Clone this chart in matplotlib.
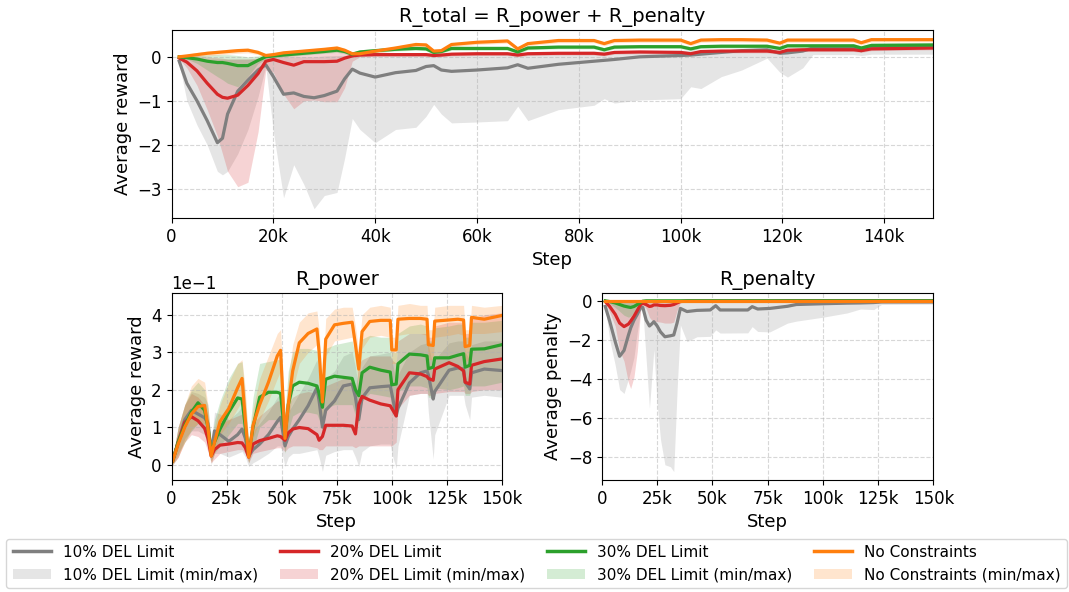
import numpy as np
import matplotlib
matplotlib.use("Agg")
import matplotlib.pyplot as plt
from matplotlib.lines import Line2D
from matplotlib.patches import Patch
from matplotlib.ticker import FuncFormatter

# ---- data (step in thousands) ----
names = ["10% DEL Limit", "20% DEL Limit", "30% DEL Limit", "No Constraints"]
colors = ["tab:gray", "tab:red", "tab:green", "tab:orange"]

# R_total
tot_step = [1.5, 3, 5, 7, 9, 10, 11, 13, 15, 17, 18.5, 20, 22, 24, 26, 28, 30, 32.5, 34, 35.5,
            37, 40, 44, 48, 50, 51.5, 53, 55, 60, 66, 68, 70, 76, 83, 85, 87, 92, 100, 102, 104,
            108, 112, 117, 119.5, 121, 124, 126, 134, 135.5, 137.5, 150]
tot_10 = [-0.1, -0.6, -1.0, -1.45, -1.95, -1.85, -1.3, -0.78, -0.53, -0.3, -0.18, -0.45, -0.85, -0.82, -0.9, -0.93, -0.88, -0.78, -0.5, -0.28,
          -0.37, -0.46, -0.36, -0.31, -0.22, -0.2, -0.3, -0.33, -0.3, -0.25, -0.18, -0.26, -0.17, -0.1, -0.08, -0.06, 0.0, 0.03, 0.04, 0.06,
          0.1, 0.14, 0.16, 0.08, 0.09, 0.13, 0.2, 0.2, 0.14, 0.22, 0.22]
tot_10_lo = [-0.15, -1.0, -1.55, -2.0, -2.6, -2.68, -2.6, -2.2, -1.65, -0.9, -0.22, -1.7, -3.2, -2.45, -2.9, -3.45, -3.15, -3.08, -2.3, -1.4,
             -1.65, -1.95, -1.65, -1.6, -1.35, -1.08, -1.3, -1.5, -1.48, -1.45, -1.12, -1.45, -1.2, -1.1, -0.95, -1.05, -0.98, -0.95, -0.68, -0.72,
             -0.45, -0.3, -0.03, -0.35, -0.46, -0.25, 0.05, 0.05, 0.03, 0.06, 0.06]
tot_10_hi = [0.0, 0.0, -0.02, -0.05, -0.05, -0.05, -0.05, -0.05, -0.05, -0.05, -0.05, 0.0, 0.0, 0.0, 0.0, 0.0, 0.02, 0.03, 0.03, 0.03,
             0.05, 0.05, 0.06, 0.07, 0.08, 0.08, 0.08, 0.08, 0.09, 0.1, 0.1, 0.1, 0.12, 0.13, 0.13, 0.13, 0.14, 0.15, 0.15, 0.16,
             0.17, 0.18, 0.2, 0.17, 0.18, 0.2, 0.25, 0.27, 0.25, 0.28, 0.28]
tot_20 = [-0.03, -0.12, -0.32, -0.6, -0.85, -0.92, -0.94, -0.87, -0.65, -0.38, -0.1, -0.06, -0.13, -0.19, -0.11, -0.11, -0.11, -0.1, -0.03, 0.02,
          0.04, 0.05, 0.05, 0.05, 0.05, 0.03, 0.04, 0.06, 0.07, 0.07, 0.04, 0.07, 0.08, 0.08, 0.06, 0.1, 0.11, 0.1, 0.07, 0.12,
          0.13, 0.13, 0.13, 0.1, 0.15, 0.16, 0.16, 0.16, 0.14, 0.18, 0.2]
tot_20_lo = [-0.05, -0.25, -0.65, -1.2, -1.8, -2.2, -2.6, -2.95, -2.85, -1.7, -0.3, -0.35, -0.85, -1.18, -1.0, -0.98, -1.02, -1.02, -0.7, -0.1,
             0.0, 0.01, 0.01, 0.01, 0.01, -0.01, 0.0, 0.02, 0.03, 0.03, 0.0, 0.03, 0.04, 0.04, 0.02, 0.06, 0.07, 0.06, 0.03, 0.08,
             0.09, 0.09, 0.09, 0.06, 0.11, 0.12, 0.12, 0.12, 0.1, 0.14, 0.16]
tot_20_hi = [0.02, 0.02, 0.02, 0.0, -0.02, -0.03, -0.05, -0.05, -0.05, -0.03, 0.02, 0.05, 0.07, 0.08, 0.09, 0.1, 0.12, 0.15, 0.1, 0.06,
             0.08, 0.09, 0.09, 0.09, 0.09, 0.07, 0.08, 0.1, 0.11, 0.11, 0.08, 0.11, 0.12, 0.12, 0.1, 0.14, 0.15, 0.14, 0.11, 0.16,
             0.17, 0.17, 0.17, 0.14, 0.19, 0.2, 0.2, 0.2, 0.18, 0.22, 0.24]
tot_30 = [0.0, -0.02, -0.05, -0.1, -0.13, -0.13, -0.15, -0.2, -0.2, -0.08, 0.0, 0.02, 0.04, 0.06, 0.08, 0.1, 0.12, 0.15, 0.12, 0.06,
          0.11, 0.14, 0.17, 0.19, 0.18, 0.1, 0.12, 0.19, 0.19, 0.19, 0.11, 0.2, 0.22, 0.22, 0.16, 0.22, 0.23, 0.23, 0.18, 0.23,
          0.24, 0.24, 0.24, 0.19, 0.25, 0.25, 0.25, 0.25, 0.2, 0.26, 0.27]
tot_30_lo = [-0.02, -0.05, -0.15, -0.3, -0.45, -0.52, -0.6, -0.68, -0.45, -0.15, -0.05, -0.02, 0.0, 0.02, 0.04, 0.06, 0.08, 0.1, 0.07, 0.02,
             0.07, 0.1, 0.13, 0.15, 0.14, 0.06, 0.08, 0.15, 0.15, 0.15, 0.07, 0.16, 0.18, 0.18, 0.12, 0.18, 0.19, 0.19, 0.14, 0.19,
             0.2, 0.2, 0.2, 0.15, 0.21, 0.21, 0.21, 0.21, 0.16, 0.22, 0.23]
tot_30_hi = [0.02, 0.03, 0.04, 0.04, 0.05, 0.05, 0.05, 0.03, 0.0, 0.02, 0.05, 0.07, 0.09, 0.11, 0.13, 0.15, 0.17, 0.2, 0.17, 0.11,
             0.16, 0.19, 0.22, 0.24, 0.23, 0.15, 0.17, 0.24, 0.24, 0.24, 0.16, 0.25, 0.27, 0.27, 0.21, 0.27, 0.28, 0.28, 0.23, 0.28,
             0.29, 0.29, 0.29, 0.24, 0.3, 0.3, 0.3, 0.3, 0.25, 0.31, 0.32]
tot_nc = [0.0, 0.02, 0.05, 0.08, 0.1, 0.11, 0.12, 0.14, 0.15, 0.1, 0.03, 0.05, 0.09, 0.11, 0.13, 0.15, 0.17, 0.2, 0.15, 0.07,
          0.07, 0.13, 0.2, 0.28, 0.27, 0.13, 0.14, 0.28, 0.33, 0.36, 0.18, 0.3, 0.37, 0.37, 0.3, 0.37, 0.38, 0.38, 0.3, 0.38,
          0.39, 0.39, 0.38, 0.31, 0.38, 0.38, 0.38, 0.38, 0.32, 0.39, 0.39]
tot_nc_lo = [-0.03, -0.03, 0.0, 0.02, 0.04, 0.05, 0.06, 0.08, 0.09, 0.05, -0.02, 0.0, 0.04, 0.06, 0.08, 0.1, 0.12, 0.15, 0.1, 0.02,
             0.02, 0.08, 0.15, 0.23, 0.22, 0.08, 0.09, 0.23, 0.28, 0.31, 0.13, 0.25, 0.32, 0.32, 0.25, 0.32, 0.33, 0.33, 0.25, 0.33,
             0.34, 0.34, 0.33, 0.26, 0.33, 0.33, 0.33, 0.33, 0.27, 0.34, 0.34]
tot_nc_hi = [0.03, 0.06, 0.1, 0.13, 0.15, 0.16, 0.17, 0.19, 0.2, 0.15, 0.07, 0.09, 0.13, 0.15, 0.17, 0.19, 0.21, 0.24, 0.19, 0.11,
             0.11, 0.17, 0.24, 0.32, 0.31, 0.17, 0.18, 0.32, 0.37, 0.4, 0.22, 0.34, 0.41, 0.41, 0.34, 0.41, 0.42, 0.42, 0.34, 0.42,
             0.43, 0.43, 0.42, 0.35, 0.42, 0.42, 0.42, 0.42, 0.36, 0.43, 0.43]

# R_power (values in units of 1e-1)
pw_step = [0.5, 3, 6, 9, 12, 15, 16.5, 18, 19.5, 22, 26, 30, 32, 33.5, 35, 37, 40, 44, 48, 49.5,
           51.5, 53, 55, 58, 62, 66, 67, 68.5, 70, 74, 78, 82, 83.5, 85, 86.5, 90, 95, 99.3, 100, 102,
           102.8, 108, 113, 116, 116.6, 118.8, 119.5, 126, 130, 132.6, 133.3, 135.4, 136.2, 142, 150]
pw_10 = [0.1, 0.6, 1.2, 1.45, 1.35, 1.25, 1.1, 0.32, 0.9, 0.8, 0.62, 0.8, 0.95, 0.7, 0.23, 0.4, 0.55, 0.8, 1.15, 1.26,
         0.5, 0.75, 0.95, 1.2, 1.57, 2.05, 1.7, 1.0, 1.45, 1.7, 2.1, 2.15, 1.8, 1.2, 1.78, 2.05, 2.08, 2.1, 1.9, 1.3,
         1.5, 2.18, 2.45, 2.5, 2.4, 1.75, 1.95, 2.52, 2.58, 2.55, 2.2, 2.02, 2.45, 2.55, 2.51]
pw_10_lo = [0.0, 0.2, 0.7, 0.9, 0.9, 0.8, 0.5, 0.0, 0.3, 0.3, 0.2, 0.3, 0.35, 0.2, -0.05, 0.05, 0.15, 0.3, 0.5, 0.5,
            -0.05, 0.2, 0.3, 0.3, 0.35, 0.4, 0.2, -0.18, 0.25, 0.35, 0.4, 0.4, 0.2, -0.05, 0.35, 0.5, 0.55, 0.55, 0.3, -0.1,
            0.5, 1.85, 1.9, 1.9, 1.4, 0.15, 0.8, 1.85, 1.85, 1.85, 1.6, 1.2, 1.8, 1.85, 1.8]
pw_10_hi = [0.2, 1.0, 1.6, 1.95, 1.9, 1.8, 1.6, 0.6, 1.4, 1.35, 1.2, 1.4, 1.55, 1.2, 0.5, 0.9, 1.1, 1.4, 1.8, 1.9,
            1.0, 1.4, 1.6, 1.9, 2.3, 2.8, 2.4, 1.8, 2.3, 2.5, 2.9, 3.0, 2.6, 2.0, 2.6, 2.9, 2.95, 3.0, 2.8, 2.2,
            2.4, 3.0, 3.2, 3.25, 3.2, 2.6, 2.8, 3.25, 3.3, 3.3, 3.0, 2.8, 3.2, 3.3, 3.3]
pw_20 = [0.1, 0.6, 1.13, 1.28, 1.17, 0.97, 0.7, 0.23, 0.4, 0.52, 0.55, 0.59, 0.58, 0.45, 0.2, 0.55, 0.64, 0.7, 0.77, 0.75,
         0.65, 0.85, 0.95, 0.99, 0.96, 0.8, 0.65, 0.75, 1.05, 1.05, 1.05, 1.03, 0.82, 1.6, 1.82, 1.72, 1.62, 1.57, 1.5, 1.3,
         2.0, 2.45, 2.42, 2.35, 2.3, 2.25, 2.55, 2.72, 2.62, 2.5, 2.2, 2.15, 2.65, 2.75, 2.82]
pw_20_lo = [0.0, 0.2, 0.6, 0.8, 0.75, 0.6, 0.35, 0.05, 0.15, 0.3, 0.35, 0.4, 0.4, 0.3, 0.05, 0.3, 0.35, 0.4, 0.45, 0.45,
            0.35, 0.45, 0.5, 0.5, 0.5, 0.45, 0.4, 0.4, 0.5, 0.5, 0.5, 0.5, 0.45, 0.5, 0.5, 0.5, 0.5, 0.5, 0.5, 0.6,
            1.5, 1.85, 1.9, 1.9, 1.85, 1.85, 1.9, 1.95, 1.95, 1.95, 1.9, 1.9, 1.95, 2.0, 2.0]
pw_20_hi = [0.2, 1.0, 1.6, 1.9, 1.8, 1.6, 1.3, 0.5, 0.9, 1.1, 1.2, 1.3, 1.35, 1.0, 0.5, 1.1, 1.3, 1.5, 1.7, 1.7,
            1.3, 1.6, 1.8, 1.9, 1.95, 1.9, 1.6, 1.5, 2.1, 2.2, 2.3, 2.3, 2.0, 2.7, 2.8, 2.9, 2.9, 2.9, 2.8, 2.7,
            3.3, 3.5, 3.5, 3.5, 3.4, 3.4, 3.7, 3.8, 3.8, 3.8, 3.5, 3.5, 3.9, 4.0, 4.05]
pw_30 = [0.1, 0.6, 1.04, 1.4, 1.65, 1.45, 1.0, 0.32, 0.6, 0.95, 1.4, 1.78, 1.75, 1.0, 0.28, 1.0, 1.8, 1.93, 1.93, 1.9,
         0.75, 1.6, 2.1, 2.2, 2.17, 2.1, 1.9, 1.53, 2.28, 2.36, 2.33, 2.3, 2.0, 1.84, 2.45, 2.6, 2.52, 2.47, 2.13, 2.15,
         2.69, 2.95, 2.93, 2.9, 2.56, 2.6, 2.85, 2.85, 2.92, 2.96, 2.6, 2.65, 3.08, 3.09, 3.2]
pw_30_lo = [0.0, 0.3, 0.6, 0.9, 1.1, 0.9, 0.5, 0.1, 0.3, 0.5, 0.8, 1.1, 1.1, 0.5, 0.05, 0.4, 1.0, 1.2, 1.2, 1.15,
            0.3, 0.9, 1.3, 1.4, 1.4, 1.35, 1.2, 0.9, 1.5, 1.6, 1.6, 1.6, 1.3, 1.1, 1.7, 1.9, 1.85, 1.8, 1.5, 1.5,
            1.95, 2.1, 2.1, 2.05, 1.8, 1.8, 2.05, 2.0, 2.05, 2.1, 1.85, 1.85, 2.1, 2.1, 2.2]
pw_30_hi = [0.2, 1.0, 1.6, 2.0, 2.2, 2.0, 1.5, 0.6, 1.2, 1.7, 2.3, 2.7, 2.75, 1.8, 0.6, 1.8, 2.7, 2.75, 2.8, 2.8,
            1.4, 2.5, 3.0, 3.1, 3.1, 3.05, 2.8, 2.3, 3.1, 3.2, 3.25, 3.3, 2.9, 2.6, 3.35, 3.45, 3.4, 3.4, 3.0, 3.0,
            3.5, 3.7, 3.75, 3.7, 3.3, 3.3, 3.65, 3.7, 3.75, 3.75, 3.4, 3.4, 3.8, 3.8, 3.85]
pw_nc = [0.1, 0.55, 1.0, 1.35, 1.55, 1.58, 1.0, 0.23, 0.6, 1.15, 1.5, 2.05, 2.3, 1.2, 0.2, 1.05, 1.6, 2.2, 2.9, 3.05,
         0.7, 1.6, 2.5, 3.25, 3.5, 3.62, 3.0, 1.67, 3.35, 3.73, 3.77, 3.8, 3.2, 2.55, 3.55, 3.82, 3.85, 3.85, 3.06, 3.06,
         3.88, 3.9, 3.9, 3.88, 3.2, 3.18, 3.83, 3.86, 3.88, 3.86, 3.15, 3.18, 3.93, 3.88, 3.98]
pw_nc_lo = [0.0, 0.2, 0.6, 0.95, 1.1, 1.1, 0.6, 0.05, 0.3, 0.8, 1.1, 1.5, 1.7, 0.7, 0.05, 0.7, 1.2, 1.7, 2.3, 2.5,
            0.4, 1.1, 2.0, 2.7, 3.0, 3.2, 2.5, 1.3, 2.9, 3.3, 3.35, 3.4, 2.8, 2.1, 3.1, 3.4, 3.45, 3.4, 2.7, 2.7,
            3.45, 3.5, 3.5, 3.45, 2.8, 2.8, 3.4, 3.45, 3.5, 3.45, 2.75, 2.8, 3.5, 3.5, 3.55]
pw_nc_hi = [0.2, 1.0, 1.6, 2.1, 2.3, 2.2, 1.6, 0.5, 1.0, 1.6, 2.2, 2.7, 2.8, 2.0, 0.5, 1.5, 2.3, 2.9, 3.5, 3.6,
            1.2, 2.3, 3.2, 3.8, 4.05, 4.1, 3.6, 2.2, 3.9, 4.15, 4.2, 4.2, 3.7, 3.0, 4.0, 4.2, 4.25, 4.2, 3.4, 3.4,
            4.25, 4.3, 4.25, 4.25, 3.6, 3.6, 4.2, 4.25, 4.25, 4.25, 3.6, 3.6, 4.25, 4.2, 4.25]

# R_penalty
pen_step = [1.5, 3.5, 6, 8, 10, 12, 13, 14.5, 16, 17.5, 18.5, 20, 21.5, 22.5, 23.5, 25, 26.5, 28.5, 31, 32.5,
            34, 35.5, 38.5, 43, 49, 51.5, 53.5, 66, 68, 70.5, 76, 84, 88, 100, 111, 117, 123, 126.5, 150]
pen_10 = [-0.3, -1.05, -2.1, -2.85, -2.55, -1.76, -1.4, -1.0, -0.7, -0.35, -0.35, -1.0, -1.3, -1.2, -1.08, -1.3, -1.6, -1.85, -1.8, -1.76,
          -1.15, -0.4, -0.56, -0.5, -0.48, -0.26, -0.48, -0.48, -0.31, -0.43, -0.4, -0.29, -0.2, -0.16, -0.13, -0.12, -0.1, -0.07, -0.07]
pen_10_lo = [-0.35, -2.0, -3.3, -4.55, -4.75, -4.0, -3.6, -2.9, -1.6, -0.5, -0.45, -3.0, -5.5, -4.0, -2.5, -5.3, -7.1, -8.4, -8.5, -8.75,
             -4.6, -1.25, -2.1, -1.85, -1.83, -1.5, -1.66, -1.65, -1.33, -1.58, -1.6, -1.15, -1.05, -0.85, -0.63, -0.43, -0.46, -0.2, -0.18]
pen_10_hi = [-0.05, -0.05, -0.05, -0.05, -0.05, -0.05, -0.05, -0.05, -0.05, -0.05, -0.05, -0.05, -0.05, -0.05, -0.05, -0.05, -0.05, -0.05, -0.05, -0.05,
             -0.05, -0.02, -0.02, -0.02, -0.02, -0.02, -0.02, -0.02, -0.02, -0.02, -0.02, -0.02, -0.02, -0.02, -0.02, -0.02, -0.02, -0.02, -0.02]
pen_20 = [-0.05, -0.3, -0.7, -1.15, -1.33, -1.2, -1.05, -0.8, -0.5, -0.2, -0.14, -0.2, -0.3, -0.28, -0.22, -0.22, -0.25, -0.26, -0.24, -0.2,
          -0.12, -0.05, -0.02, -0.02, -0.02, -0.02, -0.02, -0.02, -0.02, -0.02, -0.02, -0.01, -0.01, -0.01, -0.01, -0.01, -0.01, -0.01, -0.01]
pen_20_lo = [-0.07, -0.6, -1.3, -2.55, -3.1, -4.2, -4.5, -3.9, -2.6, -0.5, -0.2, -0.4, -0.85, -1.0, -1.05, -1.08, -1.1, -1.15, -1.15, -1.1,
             -0.5, -0.08, -0.04, -0.04, -0.04, -0.04, -0.04, -0.04, -0.04, -0.04, -0.04, -0.03, -0.03, -0.03, -0.03, -0.03, -0.03, -0.03, -0.03]
pen_20_hi = [0.0, -0.02, -0.05, -0.08, -0.1, -0.1, -0.08, -0.06, -0.04, -0.02, -0.02, -0.02, -0.03, -0.03, -0.02, -0.02, -0.02, -0.02, -0.02, -0.02,
             -0.01, 0.0, 0.0, 0.0, 0.0, 0.0, 0.0, 0.0, 0.0, 0.0, 0.0, 0.0, 0.0, 0.0, 0.0, 0.0, 0.0, 0.0, 0.0]
pen_30 = [-0.01, -0.05, -0.12, -0.2, -0.28, -0.33, -0.35, -0.3, -0.2, -0.08, -0.03, -0.01, -0.01, -0.01, -0.01, -0.01, -0.01, -0.01, -0.01, -0.01,
          -0.01, -0.01, -0.01, -0.01, -0.01, -0.01, -0.01, -0.01, -0.01, -0.01, -0.01, -0.01, -0.01, -0.01, -0.01, -0.01, -0.01, -0.01, -0.01]
pen_30_lo = [-0.02, -0.15, -0.35, -0.55, -0.75, -0.85, -0.8, -0.6, -0.35, -0.1, -0.05, -0.02, -0.02, -0.02, -0.02, -0.02, -0.02, -0.02, -0.02, -0.02,
             -0.02, -0.02, -0.02, -0.02, -0.02, -0.02, -0.02, -0.02, -0.02, -0.02, -0.02, -0.02, -0.02, -0.02, -0.02, -0.02, -0.02, -0.02, -0.02]
pen_30_hi = [0.0, 0.0, -0.01, -0.02, -0.03, -0.04, -0.04, -0.03, -0.02, 0.0, 0.0, 0.0, 0.0, 0.0, 0.0, 0.0, 0.0, 0.0, 0.0, 0.0,
             0.0, 0.0, 0.0, 0.0, 0.0, 0.0, 0.0, 0.0, 0.0, 0.0, 0.0, 0.0, 0.0, 0.0, 0.0, 0.0, 0.0, 0.0, 0.0]
pen_nc = [0.0, 0.0, 0.0, 0.0, 0.0, 0.0, 0.0, 0.0, 0.0, 0.0, 0.0, 0.0, 0.0, 0.0, 0.0, 0.0, 0.0, 0.0, 0.0, 0.0,
          0.0, 0.0, 0.0, 0.0, 0.0, 0.0, 0.0, 0.0, 0.0, 0.0, 0.0, 0.0, 0.0, 0.0, 0.0, 0.0, 0.0, 0.0, 0.0]
pen_nc_lo = [-0.02, -0.02, -0.02, -0.02, -0.02, -0.02, -0.02, -0.02, -0.02, -0.02, -0.02, -0.02, -0.02, -0.02, -0.02, -0.02, -0.02, -0.02, -0.02, -0.02,
             -0.02, -0.02, -0.02, -0.02, -0.02, -0.02, -0.02, -0.02, -0.02, -0.02, -0.02, -0.02, -0.02, -0.02, -0.02, -0.02, -0.02, -0.02, -0.02]
pen_nc_hi = [0.0, 0.0, 0.0, 0.0, 0.0, 0.0, 0.0, 0.0, 0.0, 0.0, 0.0, 0.0, 0.0, 0.0, 0.0, 0.0, 0.0, 0.0, 0.0, 0.0,
             0.0, 0.0, 0.0, 0.0, 0.0, 0.0, 0.0, 0.0, 0.0, 0.0, 0.0, 0.0, 0.0, 0.0, 0.0, 0.0, 0.0, 0.0, 0.0]

tot = [(tot_10, tot_10_lo, tot_10_hi), (tot_20, tot_20_lo, tot_20_hi),
       (tot_30, tot_30_lo, tot_30_hi), (tot_nc, tot_nc_lo, tot_nc_hi)]
pw = [(pw_10, pw_10_lo, pw_10_hi), (pw_20, pw_20_lo, pw_20_hi),
      (pw_30, pw_30_lo, pw_30_hi), (pw_nc, pw_nc_lo, pw_nc_hi)]
pen = [(pen_10, pen_10_lo, pen_10_hi), (pen_20, pen_20_lo, pen_20_hi),
       (pen_30, pen_30_lo, pen_30_hi), (pen_nc, pen_nc_lo, pen_nc_hi)]

fig = plt.figure(figsize=(10.69, 5.92), dpi=100)
ax_t = fig.add_axes([0.1605, 0.6318, 0.7123, 0.3176])
ax_p = fig.add_axes([0.1605, 0.1892, 0.3090, 0.3159])
ax_n = fig.add_axes([0.5631, 0.1892, 0.3100, 0.3159])


def draw(ax, steps, series, scale=1.0):
    x = np.array(steps)
    for (m, lo, hi), c in zip(series, colors):
        ax.fill_between(x, np.array(lo) * scale, np.array(hi) * scale, color=c, alpha=0.2, lw=0)
        ax.plot(x, np.array(m) * scale, color=c, lw=2.3)
    ax.grid(True, ls="--", alpha=0.5)
    ax.tick_params(labelsize=12)


kfmt = FuncFormatter(lambda v, p: "0" if v == 0 else f"{v:g}k")

draw(ax_t, tot_step, tot)
ax_t.set_xlim(0, 149.6)
ax_t.set_ylim(-3.66, 0.61)
ax_t.set_xticks([0, 20, 40, 60, 80, 100, 120, 140])
ax_t.xaxis.set_major_formatter(kfmt)
ax_t.set_title("R_total = R_power + R_penalty", fontsize=14)
ax_t.set_xlabel("Step", fontsize=13)
ax_t.set_ylabel("Average reward", fontsize=13)

draw(ax_p, pw_step, pw, scale=0.1)
ax_p.set_xlim(0, 150)
ax_p.set_ylim(-0.041, 0.458)
ax_p.set_xticks([0, 25, 50, 75, 100, 125, 150])
ax_p.xaxis.set_major_formatter(kfmt)
ax_p.ticklabel_format(style="sci", axis="y", scilimits=(0, 0))
ax_p.yaxis.get_offset_text().set_fontsize(12)
ax_p.set_title("R_power", fontsize=14)
ax_p.set_xlabel("Step", fontsize=13)
ax_p.set_ylabel("Average reward", fontsize=13)

draw(ax_n, pen_step, pen)
ax_n.set_xlim(0, 150)
ax_n.set_ylim(-9.18, 0.39)
ax_n.set_xticks([0, 25, 50, 75, 100, 125, 150])
ax_n.xaxis.set_major_formatter(kfmt)
ax_n.set_title("R_penalty", fontsize=14)
ax_n.set_xlabel("Step", fontsize=13)
ax_n.set_ylabel("Average penalty", fontsize=13)

handles, labels = [], []
for n, c in zip(names, colors):
    handles += [Line2D([], [], color=c, lw=2.5), Patch(facecolor=c, alpha=0.2, lw=0)]
    labels += [n, n + " (min/max)"]
fig.legend(handles, labels, ncol=4, loc="lower left", mode="expand",
           bbox_to_anchor=(0.006, 0.006, 0.992, 0.085), fontsize=11,
           handlelength=2.5, borderaxespad=0.0)

fig.savefig("out.png", dpi=100)
